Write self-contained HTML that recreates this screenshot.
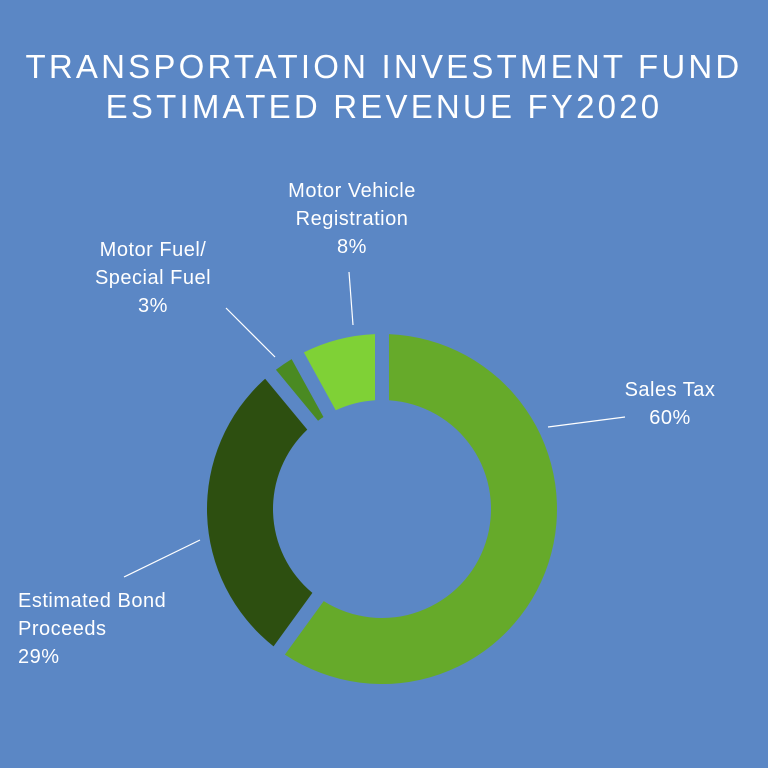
<!DOCTYPE html>
<html><head><meta charset="utf-8"><style>
html,body{margin:0;padding:0;background:#5b87c5;}
svg{display:block;font-family:"Liberation Sans",sans-serif;}
</style></head><body>
<svg id="chart" width="768" height="768" viewBox="0 0 768 768">
<rect width="768" height="768" fill="#5b87c5"/>
<text x="384" y="78" text-anchor="middle" fill="#fff" font-size="33" letter-spacing="3.2">TRANSPORTATION INVESTMENT FUND</text>
<text x="384" y="118" text-anchor="middle" fill="#fff" font-size="33" letter-spacing="3.2">ESTIMATED REVENUE FY2020</text>
<g id="slices"></g>
<g fill="#fff" font-size="20" letter-spacing="0.5">
<text text-anchor="middle"><tspan x="670" y="396">Sales Tax</tspan><tspan x="670" y="424">60%</tspan></text>
<text><tspan x="18" y="607">Estimated Bond</tspan><tspan x="18" y="635">Proceeds</tspan><tspan x="18" y="663">29%</tspan></text>
<text text-anchor="middle"><tspan x="153" y="256">Motor Fuel/</tspan><tspan x="153" y="284">Special Fuel</tspan><tspan x="153" y="312">3%</tspan></text>
<text text-anchor="middle"><tspan x="352" y="197">Motor Vehicle</tspan><tspan x="352" y="225">Registration</tspan><tspan x="352" y="253">8%</tspan></text>
</g>
<g stroke="#fff" stroke-width="1.2">
<line x1="548" y1="427" x2="625" y2="417"/>
<line x1="200" y1="540" x2="124" y2="577"/>
<line x1="275" y1="357" x2="226" y2="308"/>
<line x1="353" y1="325" x2="349" y2="272"/>
</g>
</svg>
<script>
const categories = ["Sales Tax","Estimated Bond Proceeds","Motor Fuel/Special Fuel","Motor Vehicle Registration"];
const values = [60,29,3,8];
const colors = ["#66aa2a","#2d4f10","#4a8a22","#7fd136"];
const cx=382, cy=509, R=175, r=109, gap=7;
const g=document.getElementById('slices');
const total=values.reduce((a,b)=>a+b,0);
function pt(rad,a){return [cx+rad*Math.sin(a), cy-rad*Math.cos(a)];}
let acc=0;
values.forEach((v,i)=>{
  const a0=acc/total*2*Math.PI, a1=(acc+v)/total*2*Math.PI; acc+=v;
  const o0=a0+gap/R, o1=a1-gap/R, i0=a0+gap/r, i1=a1-gap/r;
  const large=(o1-o0)>Math.PI?1:0, largeI=(i1-i0)>Math.PI?1:0;
  const p1=pt(R,o0),p2=pt(R,o1),p3=pt(r,i1),p4=pt(r,i0);
  const d=`M${p1} A${R},${R} 0 ${large} 1 ${p2} L${p3} A${r},${r} 0 ${largeI} 0 ${p4} Z`;
  const el=document.createElementNS('http://www.w3.org/2000/svg','path');
  el.setAttribute('d',d);
  el.setAttribute('fill',colors[i]);
  
  
  g.appendChild(el);
});
</script>
</body></html>
